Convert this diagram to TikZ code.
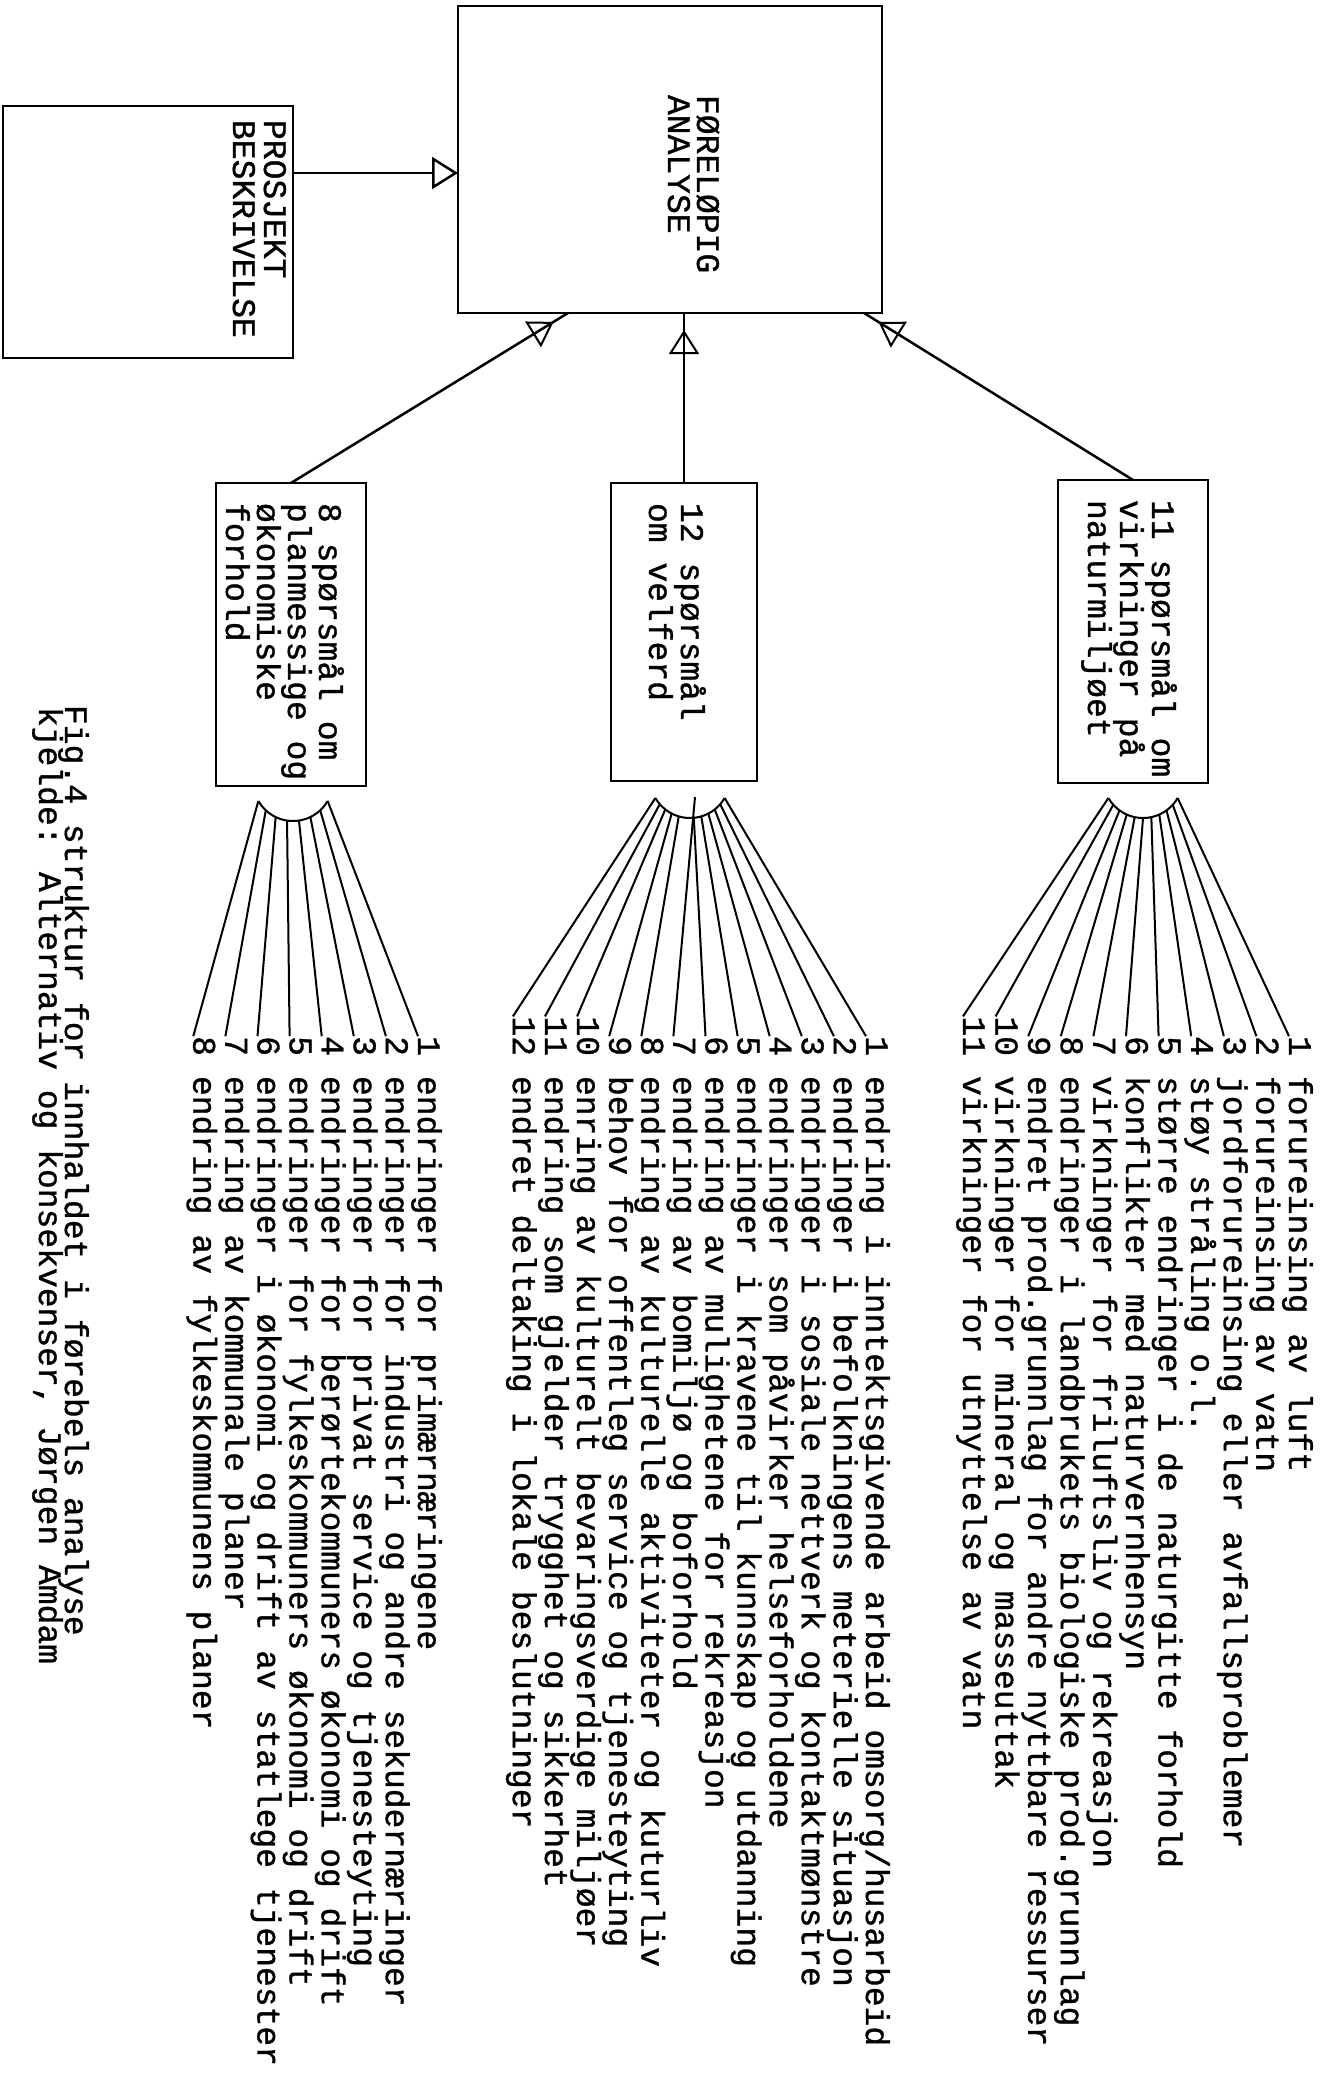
\documentclass[tikz,border=0pt]{standalone}
\usepackage{fontspec}
\newfontfamily\tw[FakeBold=1]{Liberation Mono}
\usetikzlibrary{arrows.meta,decorations.markings,calc}
\begin{document}
\begin{tikzpicture}[x=1pt,y=-1pt,
  every node/.style={inner sep=0pt,outer sep=0pt},
  tt/.style={font=\tw\fontsize{33}{32.5}\selectfont,rotate=-90},
  txt/.style={tt,anchor=base west},
  num/.style={tt,anchor=base east},
  box/.style={draw,line width=2.5pt,rectangle},
  fan/.style={line width=2pt},
  link/.style={line width=2.5pt},
  headmark/.style={postaction={decorate,decoration={markings,
     mark=at position -17pt with {\arrow[line width=2pt]{Triangle[open,length=24pt,width=30pt]}}}}}]
\fill[white] (0,0) rectangle (1327,2080);
\useasboundingbox (0,0) rectangle (1327,2080);

% main boxes
\node[box,minimum width=424,minimum height=307] (fa) at (670,159.5) {};
\node[box,minimum width=290,minimum height=252] (pb) at (148,232) {};
\node[txt] (fa1) at (697,95) {FØRELØPIG};
\node[txt] (fa2) at (668,95) {ANALYSE};
\node[txt] (pb1) at (264,120) {PROSJEKT};
\node[txt] (pb2) at (233,120) {BESKRIVELSE};

% question boxes
\node[box,minimum width=150,minimum height=303] (qA) at (1133,631.5) {};
\node[box,minimum width=146,minimum height=298] (qB) at (684,632) {};
\node[box,minimum width=150,minimum height=303] (qC) at (291,634.5) {};
\node[txt] (qA1) at (1152,500) {11 spørsmål om};
\node[txt] (qA2) at (1120,500) {virkninger på};
\node[txt] (qA3) at (1088,500) {naturmiljøet};
\node[txt] (qB1) at (681,503) {12 spørsmål};
\node[txt] (qB2) at (649,503) {om velferd};
\node[txt] (qC1) at (319,503) {8 spørsmål om};
\node[txt] (qC2) at (288,503) {planmessige og};
\node[txt] (qC3) at (257,503) {økonomiske};
\node[txt] (qC4) at (226,503) {forhold};

% connectors to main box
\coordinate (ay) at (0,173);
\draw[link,-{Triangle[open,length=26pt,width=32pt]}] (pb.east |- ay) -- (fa.west |- ay);
\draw[link,headmark] (qC.north) -- ($(fa.south west)+(110,0)$);
\draw[link,headmark] (qB.north) -- (qB.north |- fa.south);
\draw[link,headmark] (qA.north) -- ($(fa.south west)+(406,0)$);

% fan arcs
\coordinate (cA) at (1143,778);
\coordinate (cB) at (690,778);
\coordinate (cC) at (293,781);
\draw[fan] ([shift={(30:40)}]cA) arc[start angle=30,end angle=150,radius=40];
\draw[fan] ([shift={(30:40)}]cB) arc[start angle=30,end angle=150,radius=40];
\draw[fan] ([shift={(30:40)}]cC) arc[start angle=30,end angle=150,radius=40];

% list A
\foreach \i/\itemtext in {1/{forureinsing av luft},2/{forureinsing av vatn},
  3/{jordforureinsing eller avfallsproblemer},4/{støy stråling o.l.},
  5/{større endringer i de naturgitte forhold},6/{konflikter med naturvernhensyn},
  7/{virkninger for friluftsliv og rekreasjon},8/{endringer i landbrukets biologiske prod.grunnlag},
  9/{endret prod.grunnlag for andre nyttbare ressurser},10/{virkninger for mineral og masseuttak},
  11/{virkninger for utnyttelse av vatn}}{
  \pgfmathsetmacro\bx{1289-32.6*(\i-1)}
  \pgfmathsetmacro\ang{30+(\i-1)*12}
  \node[num] (nA\i) at (\bx,1056) {\i};
  \node[txt] (tA\i) at (\bx,1076) {\itemtext};
  \draw[fan] ([shift={(\ang:40)}]cA) -- (nA\i.base west);
}

% list B
\foreach \i/\itemtext in {1/{endring i inntektsgivende arbeid omsorg/husarbeid},
  2/{endringer i befolkningens meterielle situasjon},
  3/{endringer i sosiale nettverk og kontaktmønstre},
  4/{endringer som påvirker helseforholdene},
  5/{endringer i kravene til kunnskap og utdanning},
  6/{endring av mulighetene for rekreasjon},
  7/{endring av bomiljø og boforhold},
  8/{endring av kulturelle aktiviteter og kuturliv},
  9/{behov for offentleg service og tjenesteyting},
  10/{enring av kulturelt bevaringsverdige miljøer},
  11/{endring som gjelder trygghet og sikkerhet},
  12/{endret deltaking i lokale beslutninger}}{
  \pgfmathsetmacro\bx{866-32.1*(\i-1)}
  \pgfmathsetmacro\ang{30+(\i-1)*120/11}
  \node[num] (nB\i) at (\bx,1056) {\i};
  \node[txt] (tB\i) at (\bx,1076) {\itemtext};
  \ifnum\i=7
    \coordinate (sB) at (695,797);
  \else
    \coordinate (sB) at ([shift={(\ang:40)}]cB);
  \fi
  \draw[fan] (sB) -- (nB\i.base west);
}

% list C
\foreach \i/\itemtext in {1/{endringer for primærnæringene},
  2/{endringer for industri og andre sekudernæringer},
  3/{endringer for privat service og tjenesteyting},
  4/{endringer for berørtekommuners økonomi og drift},
  5/{endringer for fylkeskommuners økonomi og drift},
  6/{endringer i økonomi og drift av statlege tjenester},
  7/{endring av kommunale planer},
  8/{endring av fylkeskommunens planer}}{
  \pgfmathsetmacro\bx{418-32.1*(\i-1)}
  \pgfmathsetmacro\ang{30+(\i-1)*120/7}
  \node[num] (nC\i) at (\bx,1056) {\i};
  \node[txt] (tC\i) at (\bx,1076) {\itemtext};
  \draw[fan] ([shift={(\ang:40)}]cC) -- (nC\i.base west);
}

% caption
\node[txt] (cap1) at (65,705) {Fig.4 struktur for innhaldet i førebels analyse};
\node[txt] (cap2) at (39,707) {kjelde: Alternativ og konsekvenser, Jørgen Amdam};
\end{tikzpicture}
\end{document}
